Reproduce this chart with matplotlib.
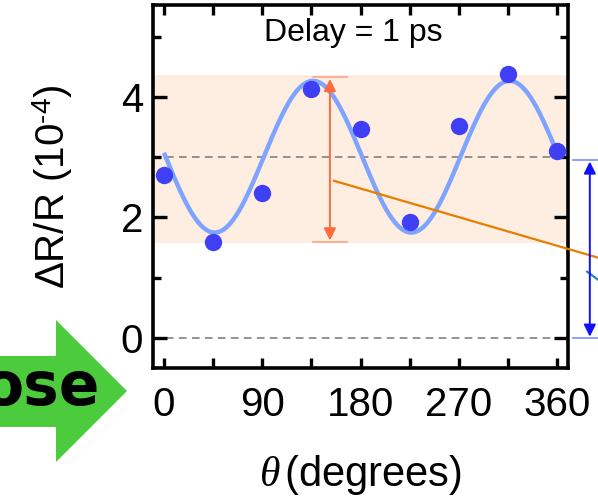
import numpy as np
import matplotlib
matplotlib.use("Agg")
import matplotlib.pyplot as plt
from matplotlib.patches import Polygon

plt.rcParams['font.family'] = ['Liberation Sans', 'DejaVu Sans']
plt.rcParams['mathtext.fontset'] = 'custom'
plt.rcParams['mathtext.rm'] = 'Liberation Sans'
plt.rcParams['mathtext.it'] = 'Liberation Serif:italic'

# Measured reflectivity change vs polarization angle
theta_deg = [0, 45, 90, 135, 180, 225, 270, 315, 360]
dR_R = [2.71, 1.59, 2.41, 4.13, 3.47, 1.93, 3.52, 4.38, 3.10]

# Two-fold sinusoidal fit: offset - amp * sin(2 (theta - phase))
fit_offset = 3.01
fit_amp = 1.26
fit_phase = 1.5

# Modulation range band and reference levels
band_low, band_high = 1.58, 4.37
ref_levels = [0.0, 3.0]
mod_arrow_x = 152
mod_arrow_range = (1.59, 4.33)
iso_arrow_x = 390
iso_arrow_range = (0.0, 2.95)

x_ticks = [0, 90, 180, 270, 360]
y_ticks = [0, 2, 4]

fig = plt.figure(figsize=(5.98, 5.01), dpi=100)
ax = fig.add_axes([0.2559, 0.2655, 0.6939, 0.7245])
ax.set_xlim(-10, 370)
ax.set_ylim(-0.5, 5.53)

ax.axhspan(band_low, band_high, color='#fdeee1', zorder=0, lw=0)
for lv in ref_levels:
    ax.axhline(lv, color='#777777', lw=1.1, ls=(0, (5, 3.5)), zorder=1)

th = np.linspace(0, 360, 721)
fit = fit_offset - fit_amp * np.sin(np.deg2rad(2 * (th - fit_phase)))
ax.plot(th, fit, color='#7ea4ff', lw=3.2, zorder=2, solid_capstyle='butt')
ax.plot(theta_deg, dR_R, 'o', color='#3f3ff5', ms=12.5, mec='none', zorder=3)

# Modulation-depth arrow with caps
ax.annotate('', xy=(mod_arrow_x, mod_arrow_range[1] - 0.03),
            xytext=(mod_arrow_x, mod_arrow_range[0] + 0.03),
            arrowprops=dict(arrowstyle='<|-|>', color='#ff6a3d', lw=1.4,
                            mutation_scale=18, shrinkA=0, shrinkB=0), zorder=4)
for yv in mod_arrow_range:
    ax.plot([mod_arrow_x - 15.6, mod_arrow_x + 15.6], [yv, yv],
            color='#ffa486', lw=1.2, zorder=4)

# Guide line leading out to the right
ax.plot([155.7, 398], [2.61, 1.33], color='#e67e00', lw=1.6,
        clip_on=False, zorder=5)
ax.plot([387.5, 398], [1.10, 0.96], color='#1a7fc0', lw=1.5,
        clip_on=False, zorder=5)

# Isotropic-offset arrow outside the frame
ax.annotate('', xy=(iso_arrow_x, iso_arrow_range[1] - 0.02),
            xytext=(iso_arrow_x, iso_arrow_range[0] + 0.02),
            arrowprops=dict(arrowstyle='<|-|>', color='#1010ff', lw=1.4,
                            mutation_scale=18, shrinkA=0, shrinkB=0),
            annotation_clip=False, zorder=5)
for yv in iso_arrow_range:
    ax.plot([374.5, 400], [yv, yv], color='#7a8cff', lw=1.2,
            clip_on=False, zorder=5)

ax.text(173, 4.93, 'Delay = 1 ps', fontsize=23, ha='center', va='baseline')

ax.set_xticks(x_ticks)
ax.set_xticks([45, 135, 225, 315], minor=True)
ax.set_yticks(y_ticks)
ax.set_yticks([1, 3, 5], minor=True)
ax.tick_params(axis='both', which='both', direction='in', top=True, right=True,
               width=2.4, labelsize=29)
ax.tick_params(axis='x', which='both', length=7, pad=13)
ax.tick_params(axis='y', which='major', length=10, pad=7)
ax.tick_params(axis='y', which='minor', length=6)
for sp in ax.spines.values():
    sp.set_linewidth(2.6)

ax.set_xlabel(r'$\theta\,$(degrees)', fontsize=30, labelpad=21)
ax.set_ylabel('ΔR/R (10$^{\u2010 4}$)', fontsize=29, labelpad=33)

# Green arrow callout at the left
W, H = 598.0, 501.0
pts_px = [(-5, 356), (56, 356), (56, 320), (127, 391), (56, 462),
          (56, 427), (-5, 427)]
poly = Polygon([(x / W, 1 - y / H) for x, y in pts_px], closed=True,
               transform=fig.transFigure, facecolor='#4ccb3c',
               edgecolor='none', clip_on=False)
fig.patches.append(poly)
fig.text(100 / W, 1 - 405 / H, 'ose', fontsize=43, fontweight='bold',
         family='DejaVu Sans', ha='right', va='baseline')

fig.savefig('out.png', dpi=100)
